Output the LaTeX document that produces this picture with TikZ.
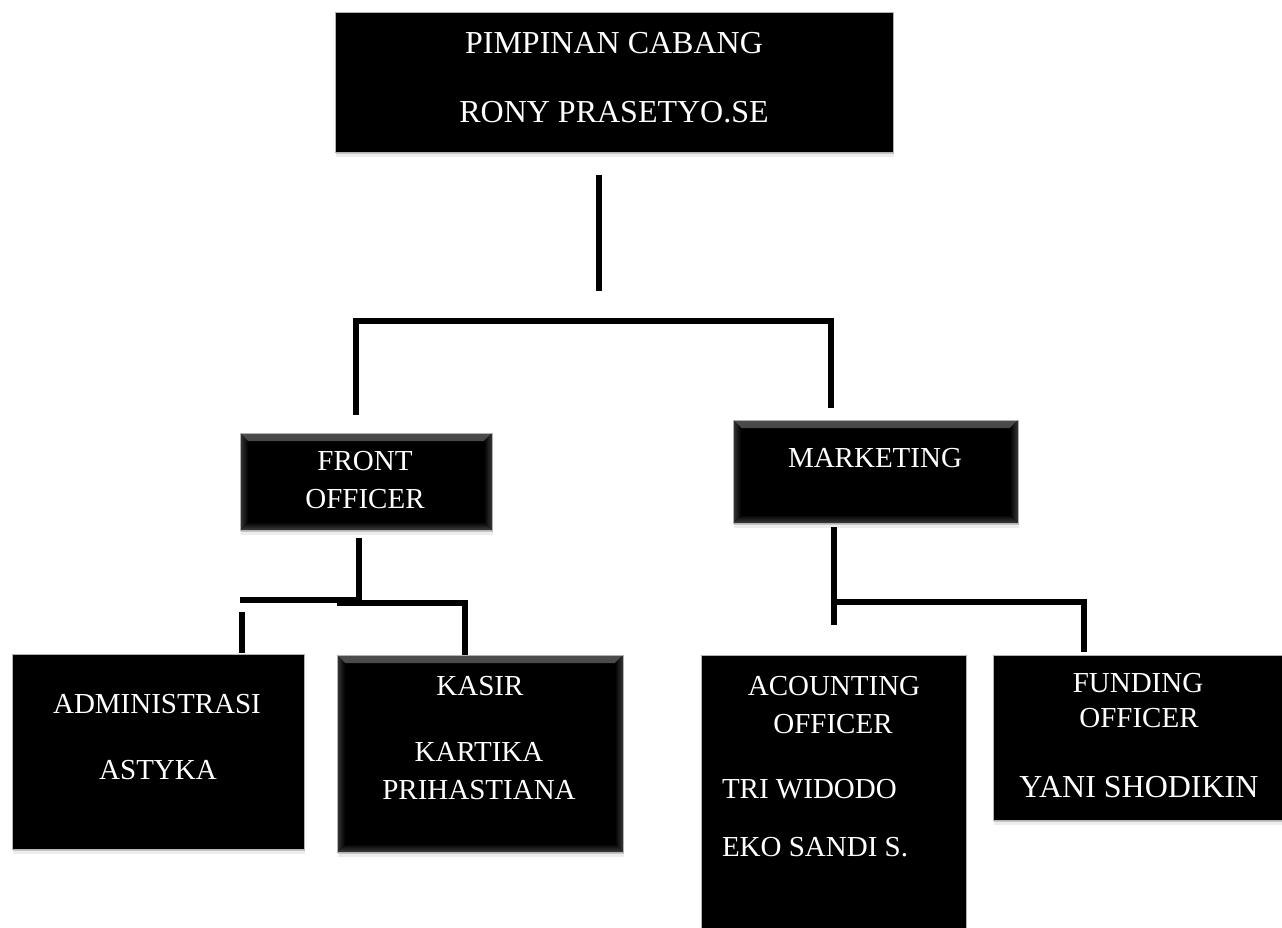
\documentclass[tikz,border=0pt]{standalone}
\usepackage{fontspec}
\setmainfont{Liberation Serif}
\usetikzlibrary{shadows}
\begin{document}
\begin{tikzpicture}[x=1pt,y=-1pt,
  box/.style={fill=black, draw=gray!60, line width=0.6pt, inner sep=0pt, outer sep=0pt},
  shad/.style={drop shadow={shadow xshift=0.5pt, shadow yshift=-2pt, fill=black, opacity=0.16},
               drop shadow={shadow xshift=1pt, shadow yshift=-5pt, fill=black, opacity=0.07}},
  bevel/.style={path picture={
    \shade[top color=black!70, bottom color=black] (path picture bounding box.north west) -- (path picture bounding box.north east) -- ([shift={(-8pt,-8pt)}]path picture bounding box.north east) -- ([shift={(8pt,-8pt)}]path picture bounding box.north west) -- cycle;
    \shade[left color=black!78, right color=black] (path picture bounding box.north west) -- ([shift={(8pt,-8pt)}]path picture bounding box.north west) -- ([shift={(8pt,8pt)}]path picture bounding box.south west) -- (path picture bounding box.south west) -- cycle;
    \shade[right color=black!78, left color=black] (path picture bounding box.north east) -- ([shift={(-8pt,-8pt)}]path picture bounding box.north east) -- ([shift={(-8pt,8pt)}]path picture bounding box.south east) -- (path picture bounding box.south east) -- cycle;
    \shade[bottom color=black!76, top color=black] (path picture bounding box.south west) -- (path picture bounding box.south east) -- ([shift={(-8pt,8pt)}]path picture bounding box.south east) -- ([shift={(8pt,8pt)}]path picture bounding box.south west) -- cycle;
  }},
  lbl/.style={text=white, inner sep=0pt, outer sep=0pt, anchor=base, font=\fontsize{29}{34}\selectfont},
  big/.style={font=\fontsize{32}{38}\selectfont},
  conn/.style={line width=6pt, draw=black},
]
\useasboundingbox (0,0) rectangle (1282,927);
\clip (0,0) rectangle (1282,927);

% boxes
\node[box, shad, minimum width=558pt, minimum height=140pt] (top) at (614,82) {};
\node[box, shad, bevel, minimum width=252pt, minimum height=97pt] (front) at (366,481.5) {};
\node[box, shad, bevel, minimum width=285pt, minimum height=103pt] (mkt) at (875.5,471.5) {};
\node[box, shad, minimum width=292pt, minimum height=195pt] (admin) at (158,751.5) {};
\node[box, shad, bevel, minimum width=286pt, minimum height=197pt] (kasir) at (480,753.5) {};
\node[box, minimum width=265pt, minimum height=285pt] (acc) at (833.5,797.5) {};
\node[box, shad, minimum width=297pt, minimum height=165pt] (fund) at (1141.5,737.5) {};

% texts
\node[lbl, big] (t1) at (614,53) {PIMPINAN CABANG};
\node[lbl, big] (t2) at (614,122) {RONY PRASETYO.SE};
\node[lbl] (f1) at (365,470) {FRONT};
\node[lbl] (f2) at (365,508) {OFFICER};
\node[lbl] (m1) at (875,467) {MARKETING};
\node[lbl] (ad1) at (157,713) {ADMINISTRASI};
\node[lbl] (ad2) at (158,779) {ASTYKA};
\node[lbl] (k1) at (480,695) {KASIR};
\node[lbl] (k2) at (479,761) {KARTIKA};
\node[lbl] (k3) at (479,799) {PRIHASTIANA};
\node[lbl] (ac1) at (834,695) {ACOUNTING};
\node[lbl] (ac2) at (833,733) {OFFICER};
\node[lbl, anchor=base west] (ac3) at (722,798) {TRI WIDODO};
\node[lbl, anchor=base west] (ac4) at (722,856) {EKO SANDI S.};
\node[lbl] (fu1) at (1138,692) {FUNDING};
\node[lbl] (fu2) at (1139,727) {OFFICER};
\node[lbl, big] (fu3) at (1139,797) {YANI SHODIKIN};

% connector points
\coordinate (a1) at (599,175);
\coordinate (a2) at (599,291);
\coordinate (b1) at (356,415);
\coordinate (b2) at (356,321);
\coordinate (b3) at (831,321);
\coordinate (b4) at (831,408);
\coordinate (c1) at (359,538);
\coordinate (c2) at (359,602);
\coordinate (c3) at (240,600);
\coordinate (c4) at (361,600);
\coordinate (c5) at (337,603);
\coordinate (c6) at (465,603);
\coordinate (c7) at (465,655);
\coordinate (c8) at (242,612);
\coordinate (c9) at (242,653);
\coordinate (d1) at (834,527);
\coordinate (d2) at (834,625);
\coordinate (d3) at (834,602);
\coordinate (d4) at (1084,602);
\coordinate (d5) at (1084,652);

% connectors
\draw[conn] (a1) -- (a2);
\draw[conn] (b1) -- (b2) -- (b3) -- (b4);
\draw[conn] (c1) -- (c2);
\draw[conn] (c3) -- (c4);
\draw[conn] (c5) -- (c6) -- (c7);
\draw[conn] (c8) -- (c9);
\draw[conn] (d1) -- (d2);
\draw[conn] (d3) -- (d4) -- (d5);
\end{tikzpicture}
\end{document}
